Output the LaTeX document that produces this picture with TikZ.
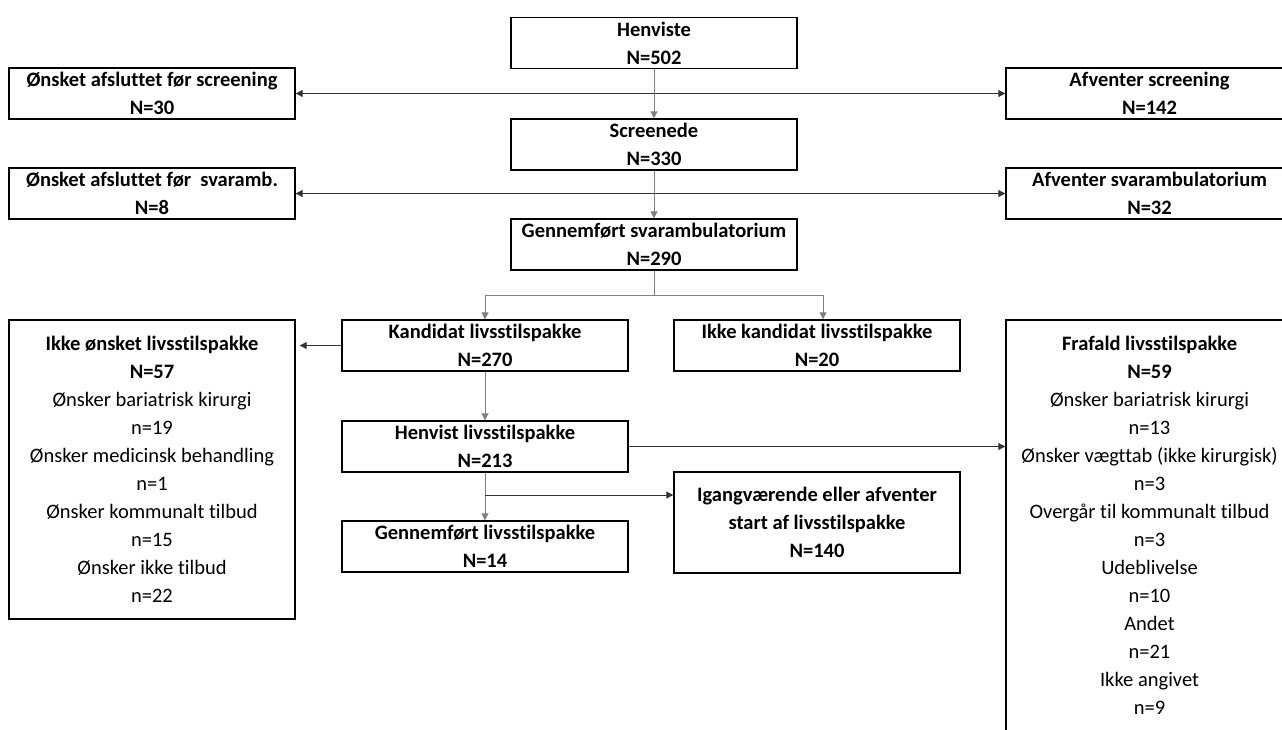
\documentclass[tikz,border=0pt]{standalone}
\usepackage{fontspec}
\setmainfont{Carlito}[Ligatures={NoCommon}]
\usetikzlibrary{arrows.meta,calc}
\begin{document}
\begin{tikzpicture}[x=1pt,y=-1pt,
  box/.style={draw=black,line width=1.4pt,minimum width=286pt,minimum height=51pt,inner sep=0pt,align=center,font=\fontsize{20.5}{28}\selectfont\bfseries,anchor=center},
  vline/.style={draw=black!50,line width=1pt},
  hline/.style={draw=black!80,line width=1pt},
  tip/.style={-{Triangle[length=7pt,width=7pt]}},
  both/.style={{Triangle[length=7pt,width=7pt]}-{Triangle[length=7pt,width=7pt]}}]
\useasboundingbox (0,0) rectangle (1282,729);
\clip (0,0) rectangle (1282,729);
\node[box] (hen) at (654,43) {Henviste\\N=502};
\node[box] (osc) at (152,93.5) {Ønsket afsluttet før screening\\N=30};
\node[box,minimum width=287pt] (asc) at (1149.5,93.5) {Afventer screening\\N=142};
\node[box] (scr) at (654,144.5) {Screenede\\N=330};
\node[box] (osv) at (152,193.5) {Ønsket afsluttet før\ \ svaramb.\\N=8};
\node[box,minimum width=287pt] (asv) at (1149.5,193.5) {Afventer svarambulatorium\\N=32};
\node[box] (gsv) at (654,244.5) {Gennemført svarambulatorium\\N=290};
\node[box] (kand) at (485,345.5) {Kandidat livsstilspakke\\N=270};
\node[box] (ikand) at (817,345.5) {Ikke kandidat livsstilspakke\\N=20};
\node[box,minimum height=299pt] (ionsk) at (152,469.5) {Ikke ønsket livsstilspakke\\N=57\\\mdseries Ønsker bariatrisk kirurgi\\\mdseries n=19\\\mdseries Ønsker medicinsk behandling\\\mdseries n=1\\\mdseries Ønsker kommunalt tilbud\\\mdseries n=15\\\mdseries Ønsker ikke tilbud\\\mdseries n=22};
\node[box,minimum width=287pt,minimum height=440pt] (fraf) at (1149.5,540) {};
\node[align=center,font=\fontsize{20.5}{28}\selectfont\bfseries,anchor=north,inner sep=0pt] (fraft) at (1149.5,336) {Frafald livsstilspakke\\N=59\\\mdseries Ønsker bariatrisk kirurgi\\\mdseries n=13\\\mdseries Ønsker vægttab (ikke kirurgisk)\\\mdseries n=3\\\mdseries Overgår til kommunalt tilbud\\\mdseries n=3\\\mdseries Udeblivelse\\\mdseries n=10\\\mdseries Andet\\\mdseries n=21\\\mdseries Ikke angivet\\\mdseries n=9};
\node[box] (henv) at (485,446.5) {Henvist livsstilspakke\\N=213};
\node[box,minimum height=101pt] (igang) at (817,522.5) {Igangværende eller afventer\\start af livsstilspakke\\N=140};
\node[box] (gen) at (485,546.5) {Gennemført livsstilspakke\\N=14};
% connectors
\draw[hline,both] (osc.east) -- (asc.west);
\draw[hline,both] (osv.east) -- (asv.west);
\draw[vline,tip] (hen.south) -- (scr.north);
\draw[vline,tip] (scr.south) -- (gsv.north);
\coordinate (b1) at (654,295);
\draw[vline] (gsv.south) -- (b1);
\draw[vline,tip] (b1) -| (kand.north);
\draw[vline,tip] (b1) -| ([xshift=6pt]ikand.north);
\draw[hline,tip,shorten >=4pt] (kand.west) -- (ionsk.east |- kand.west);
\draw[vline,tip] (kand.south) -- (henv.north);
\draw[hline,tip] (henv.east) -- (fraf.west |- henv.east);
\draw[vline,tip] (henv.south) -- (gen.north);
\coordinate (b2) at (485,495);
\draw[hline,tip] (b2) -- (igang.west |- b2);
\end{tikzpicture}
\end{document}
